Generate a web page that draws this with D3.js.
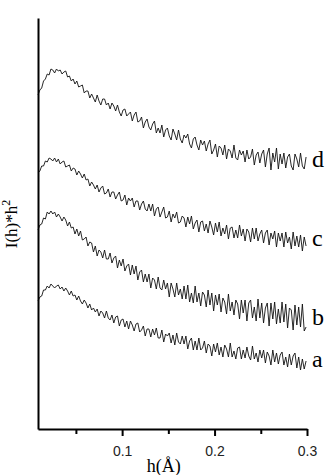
<!DOCTYPE html>
<html>
<head>
<meta charset="utf-8">
<script src="https://cdn.jsdelivr.net/npm/d3@7"></script>
<style>
  body { margin: 0; background: #fff; }
  .axis path, .axis line { stroke: #000; }
</style>
</head>
<body>
<div id="chart"></div>
<script>
// scattering vector grid h (Å), one sample every 0.002
const h = d3.range(0.009, 0.3, 0.002);

// I(h)*h^2, arbitrary units
const seriesA = [128,132,133,139,139,143,141,145,143,141,143,144,140,142,138,141,138,134,138,133,
  134,129,133,128,125,129,126,121,125,119,121,117,120,113,118,116,111,118,111,109,
  114,106,112,113,103,109,110,102,108,100,108,104,98,105,106,97,99,103,93,100,
  100,92,100,94,101,91,91,99,87,95,93,96,86,94,84,96,87,85,93,85,
  93,80,88,91,79,88,79,91,79,81,88,76,85,83,73,85,77,86,74,82,
  72,84,80,72,86,72,78,70,81,82,70,79,71,82,73,69,83,70,76,67,
  79,71,79,66,77,73,64,79,67,76,65,74,77,64,72,62,75,64,73,76,
  61,72,59,70,60,68];
const seriesB = [199,204,205,211,210,217,215,218,215,217,212,215,212,208,212,209,203,207,201,202,
  195,200,193,198,189,190,192,183,187,186,177,183,173,179,177,171,179,170,170,176,
  166,171,173,161,169,163,170,158,163,165,154,164,155,163,149,157,159,147,155,147,
  155,141,151,149,140,152,141,139,149,140,146,132,146,140,132,146,134,140,130,143,
  130,144,127,136,126,143,127,136,123,137,134,122,139,124,136,118,134,124,135,117,
  131,127,115,135,118,127,114,129,125,110,129,116,129,108,126,129,111,122,108,130,
  111,126,106,121,126,103,126,110,127,105,120,106,127,107,125,101,121,119,99,124,
  104,122,102,125,98,102];
const seriesC = [256,258,263,263,268,267,271,270,268,271,267,270,265,267,268,262,263,264,258,261,
  260,254,258,255,251,255,249,250,243,247,244,240,244,237,241,243,235,236,240,232,
  237,237,230,234,237,228,229,234,224,231,228,231,222,228,228,219,225,228,220,218,
  225,218,225,213,220,222,212,217,222,211,212,218,207,215,211,217,206,207,213,211,
  202,212,205,213,200,206,209,197,207,208,198,205,196,208,202,194,206,197,207,193,
  201,195,204,190,201,202,191,199,191,204,193,200,188,200,197,187,201,190,201,188,
  195,199,186,196,199,184,196,190,198,182,196,188,196,182,197,186,192,180,197,183,
  193,182,194,178,192,183];
const seriesD = [334,339,341,348,350,355,354,360,359,356,360,358,359,355,357,358,352,353,348,350,
  345,348,342,343,344,336,338,338,331,335,331,327,334,328,324,330,330,324,326,320,
  326,323,318,324,317,313,319,320,313,315,317,308,314,317,307,308,312,301,307,310,
  302,299,305,308,296,301,296,304,292,299,301,293,289,300,295,289,299,290,286,294,
  291,295,285,281,290,292,284,279,289,284,288,278,285,289,275,279,285,272,283,281,
  274,284,270,280,278,271,284,271,269,279,274,278,267,279,270,272,280,264,274,277,
  266,275,279,262,275,281,259,276,267,281,260,275,265,276,261,272,275,263,259,275,
  270,262,276,263,260,272];

const seriesNames = ["a", "b", "c", "d"];
const seriesValues = [seriesA, seriesB, seriesC, seriesD];

const majorTicks = [0.1, 0.2, 0.3];
const minorTicks = [0.05, 0.15, 0.25];

const dimensions = {
  width: 330,
  height: 475,
  marginTop: 18,
  marginRight: 23,
  marginBottom: 46,
  marginLeft: 38,
};
dimensions.boundedWidth = dimensions.width - dimensions.marginLeft - dimensions.marginRight;
dimensions.boundedHeight = dimensions.height - dimensions.marginTop - dimensions.marginBottom;

const wrapper = d3.select("#chart")
  .append("svg")
    .attr("width", dimensions.width)
    .attr("height", dimensions.height);

const bounds = wrapper.append("g")
  .attr("transform", `translate(${dimensions.marginLeft},${dimensions.marginTop})`);

// scales
const xScale = d3.scaleLinear()
  .domain([0.009, 0.3])
  .range([0, dimensions.boundedWidth]);
const yScale = d3.scaleLinear()
  .domain([0, 411])
  .range([dimensions.boundedHeight, 0]);

const lineGenerator = d3.line()
  .x((d, i) => xScale(h[i]))
  .y(d => yScale(d));

// curves + letter at the right end of each
seriesValues.forEach((values, k) => {
  bounds.append("path")
    .attr("d", lineGenerator(values))
    .attr("fill", "none")
    .attr("stroke", "#111")
    .attr("stroke-width", 0.9)
    .attr("stroke-linejoin", "round");

  const tail = d3.mean(values.slice(-8));
  bounds.append("text")
    .attr("x", xScale(0.3) + 5)
    .attr("y", yScale(tail) + 5)
    .attr("font-family", "'Liberation Serif', 'DejaVu Serif', serif")
    .attr("font-size", 24)
    .attr("fill", "#000")
    .text(seriesNames[k]);
});

// axes
const xAxis = bounds.append("g")
  .attr("class", "axis")
  .attr("transform", `translate(0,${dimensions.boundedHeight})`)
  .call(d3.axisBottom(xScale)
    .tickValues(majorTicks)
    .tickSize(7)
    .tickSizeOuter(0)
    .tickPadding(10)
    .tickFormat(d3.format(".1f")));
xAxis.select(".domain").attr("stroke-width", 2);
xAxis.selectAll(".tick line")
  .attr("stroke", "#000")
  .attr("stroke-width", 2);
xAxis.selectAll(".tick text")
  .attr("font-family", "'Liberation Sans', Arial, sans-serif")
  .attr("font-size", 14)
  .attr("fill", "#222");

const xMinor = bounds.append("g")
  .attr("transform", `translate(0,${dimensions.boundedHeight})`)
  .call(d3.axisBottom(xScale)
    .tickValues(minorTicks)
    .tickSize(5)
    .tickFormat(""));
xMinor.select(".domain").remove();
xMinor.selectAll(".tick line").attr("stroke", "#000").attr("stroke-width", 2);

const yAxis = bounds.append("g")
  .attr("class", "axis")
  .call(d3.axisLeft(yScale).tickValues([]).tickSizeOuter(0));
yAxis.select(".domain").attr("stroke-width", 2);

// axis titles
bounds.append("text")
  .attr("x", xScale(0.145))
  .attr("y", dimensions.boundedHeight + 43)
  .attr("text-anchor", "middle")
  .attr("font-family", "'Liberation Serif', serif")
  .attr("font-size", 18)
  .text("h(Å)");

const yTitle = bounds.append("text")
  .attr("transform", `translate(${-21},${yScale(205)}) rotate(-90)`)
  .attr("text-anchor", "middle")
  .attr("font-family", "'Liberation Serif', serif")
  .attr("font-size", 17);
yTitle.append("tspan").text("I(h)*h");
yTitle.append("tspan").attr("dy", -7).attr("font-size", 12).text("2");
</script>
</body>
</html>
